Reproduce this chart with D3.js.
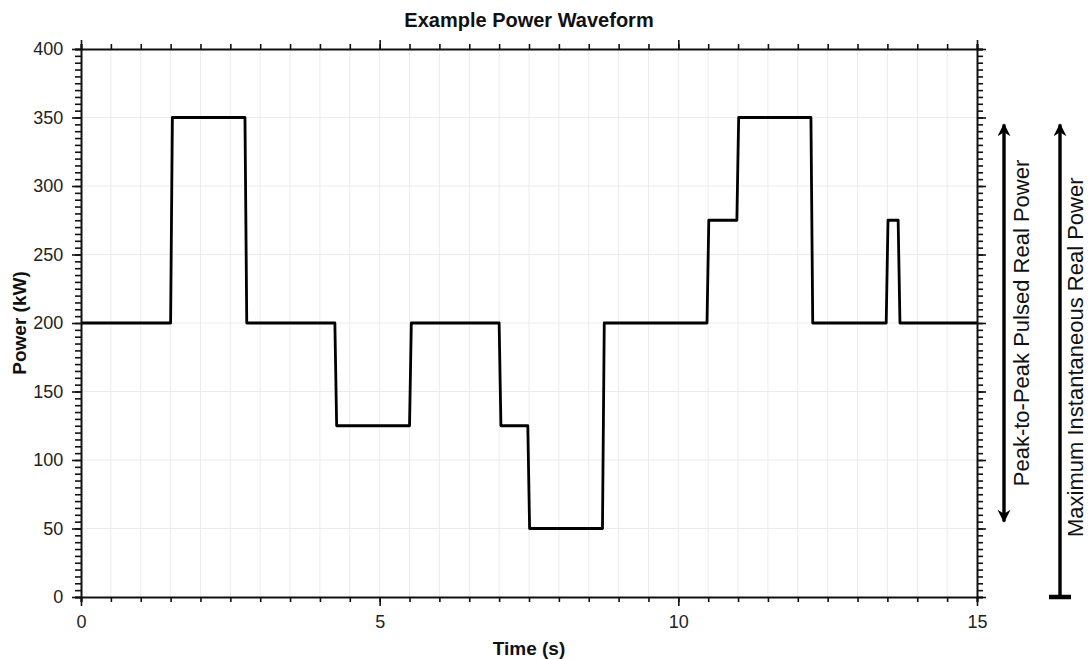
<!DOCTYPE html>
<html>
<head>
<meta charset="utf-8">
<script src="https://cdn.jsdelivr.net/npm/d3@7/dist/d3.min.js"></script>
<style>
  html, body { margin: 0; padding: 0; background: #fff; }
  svg { display: block; font-family: "Liberation Sans", Arial, Helvetica, sans-serif; }
</style>
</head>
<body>
<svg id="chart" width="1089" height="659"></svg>
<script>
// Waveform breakpoints (time in s, power in kW); short ramps between levels
const times  = [0, 1.50, 1.53, 2.745, 2.775, 4.25, 4.28, 5.50, 5.53, 7.00, 7.03, 7.48, 7.51, 8.73, 8.76,
                10.48, 10.51, 10.98, 11.01, 12.22, 12.25, 13.48, 13.51, 13.68, 13.71, 15];
const powers = [200, 200, 350, 350, 200, 200, 125, 125, 200, 200, 125, 125, 50, 50, 200,
                200, 275, 275, 350, 350, 200, 200, 275, 275, 200, 200];

const xMajorTicks = [0, 5, 10, 15];
const yMajorTicks = [0, 50, 100, 150, 200, 250, 300, 350, 400];
const xMinorStep = 0.5;
const yMinorStep = 5;

// Annotation ranges (kW)
const pulsedRange = [50, 350];
const maxRange = [0, 350];
const pulsedLabel = "Peak-to-Peak Pulsed Real Power";
const maxLabel = "Maximum Instantaneous Real Power";

const titleText = "Example Power Waveform";
const xLabel = "Time (s)";
const yLabel = "Power (kW)";

const margin = { left: 81, right: 112, top: 49, bottom: 62 };
const W = 1089, H = 659;
const svg = d3.select("#chart");

const x = d3.scaleLinear().domain([0, 15]).range([margin.left, W - margin.right]);
const y = d3.scaleLinear().domain([0, 400]).range([H - margin.bottom, margin.top]);

const xMinor = d3.range(0, 15 + 1e-9, xMinorStep).map(v => +v.toFixed(2));
const yMinor = d3.range(0, 400 + 1e-9, yMinorStep);

// Grid
const grid = svg.append("g").attr("stroke", "#ececec").attr("stroke-width", 1);
grid.selectAll(".gx").data(xMinor.filter(v => v > 0 && v < 15)).join("line")
  .attr("x1", d => x(d)).attr("x2", d => x(d))
  .attr("y1", y(0)).attr("y2", y(400));
grid.selectAll(".gy").data(yMajorTicks.filter(v => v > 0 && v < 400)).join("line")
  .attr("x1", x(0)).attr("x2", x(15))
  .attr("y1", d => y(d)).attr("y2", d => y(d));

// Waveform
const line = d3.line().x((d, i) => x(times[i])).y(d => y(d));
svg.append("path")
  .attr("d", line(powers))
  .attr("fill", "none")
  .attr("stroke", "#000")
  .attr("stroke-width", 2.8)
  .attr("stroke-linejoin", "round");

// Axes: minor ticks, then major ticks with labels
function styleAxis(g) {
  g.select(".domain").attr("stroke", "#111").attr("stroke-width", 2);
  g.selectAll(".tick line").attr("stroke", "#111").attr("stroke-width", 1.6);
  g.selectAll(".tick text").attr("fill", "#222").style("font-size", "18px");
}
function addAxis(axisFn, scale, minor, major, transform, labels, minorLen, majorLen) {
  svg.append("g").attr("transform", transform)
    .call(axisFn(scale).tickValues(minor).tickSize(minorLen).tickFormat(""))
    .call(styleAxis);
  const g = svg.append("g").attr("transform", transform)
    .call(axisFn(scale).tickValues(major).tickSize(majorLen).tickPadding(7)
      .tickFormat(labels ? d3.format("d") : ""))
    .call(styleAxis);
  g.select(".domain").remove();
  return g;
}
const xb = addAxis(d3.axisBottom, x, xMinor, xMajorTicks, `translate(0,${y(0)})`, true, 5, 9);
xb.selectAll(".tick text").attr("dy", "0.85em");
addAxis(d3.axisTop, x, xMinor, xMajorTicks, `translate(0,${y(400)})`, false, 5, 9);
const yl = addAxis(d3.axisLeft, y, yMinor, yMajorTicks, `translate(${x(0)},0)`, true, 6, 9);
yl.selectAll(".tick text").attr("dx", "-0.1em");
addAxis(d3.axisRight, y, yMinor, yMajorTicks, `translate(${x(15)},0)`, false, 6, 9);

// Title and axis labels
svg.append("text").attr("x", (x(0) + x(15)) / 2).attr("y", 27)
  .attr("text-anchor", "middle").attr("font-weight", "bold").style("font-size", "20px")
  .attr("fill", "#111").text(titleText);
svg.append("text").attr("x", (x(0) + x(15)) / 2).attr("y", 655)
  .attr("text-anchor", "middle").attr("font-weight", "bold").style("font-size", "19px")
  .attr("fill", "#111").text(xLabel);
svg.append("text").attr("transform", `translate(26,${(y(0) + y(400)) / 2}) rotate(-90)`)
  .attr("text-anchor", "middle").attr("font-weight", "bold").style("font-size", "19px")
  .attr("fill", "#111").text(yLabel);

// Annotation arrows
const defs = svg.append("defs");
defs.append("marker").attr("id", "head")
  .attr("viewBox", "0 0 10 10").attr("refX", 9).attr("refY", 5)
  .attr("markerUnits", "userSpaceOnUse")
  .attr("markerWidth", 15).attr("markerHeight", 13).attr("orient", "auto-start-reverse")
  .append("path").attr("d", "M0,0 L10,5 L0,10 L3,5 Z").attr("fill", "#000");

const ax1 = 1004, ax2 = 1060, tipInset = 7;
svg.append("line")
  .attr("x1", ax1).attr("x2", ax1)
  .attr("y1", y(pulsedRange[1]) + tipInset).attr("y2", y(pulsedRange[0]) - tipInset)
  .attr("stroke", "#000").attr("stroke-width", 3.4)
  .attr("marker-start", "url(#head)").attr("marker-end", "url(#head)");
svg.append("line")
  .attr("x1", ax2).attr("x2", ax2)
  .attr("y1", y(maxRange[1]) + tipInset).attr("y2", y(maxRange[0]))
  .attr("stroke", "#000").attr("stroke-width", 3.4)
  .attr("marker-start", "url(#head)");
svg.append("line")
  .attr("x1", ax2 - 11).attr("x2", ax2 + 11)
  .attr("y1", y(maxRange[0])).attr("y2", y(maxRange[0]))
  .attr("stroke", "#000").attr("stroke-width", 4.5);

svg.append("text").attr("transform", `translate(1029,${(y(pulsedRange[0]) + y(pulsedRange[1])) / 2}) rotate(-90)`)
  .attr("text-anchor", "middle").style("font-size", "22px").attr("fill", "#111").text(pulsedLabel);
svg.append("text").attr("transform", `translate(1083,${(y(maxRange[0]) + y(maxRange[1])) / 2}) rotate(-90)`)
  .attr("text-anchor", "middle").style("font-size", "22px").attr("fill", "#111").text(maxLabel);
</script>
</body>
</html>
